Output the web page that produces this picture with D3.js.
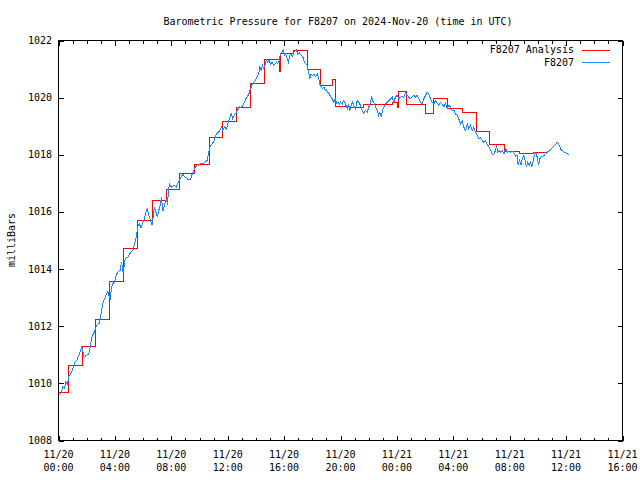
<!DOCTYPE html>
<html>
<head>
<meta charset="utf-8">
<script src="https://cdn.jsdelivr.net/npm/d3@7"></script>
<style>
  html, body { margin: 0; padding: 0; background: #fff; }
  svg { display: block; }
  text { font-family: "DejaVu Sans Mono", "Liberation Mono", monospace; font-size: 10px; fill: #000; }
</style>
</head>
<body>
<svg id="chart" width="640" height="480"></svg>
<script>
// ---- data (hours after 2024-11-20 00:00 UTC) ----
const titleText = "Barometric Pressure for F8207 on 2024-Nov-20 (time in UTC)";
const yLabel = "milliBars";
const seriesNames = ["F8207 Analysis", "F8207"];
const yTicks = [1008, 1010, 1012, 1014, 1016, 1018, 1020, 1022];
const xMajorHours = [0, 4, 8, 12, 16, 20, 24, 28, 32, 36, 40];

// Analysis (step) series
const anaHours = [0.00, 0.69, 1.68, 2.65, 3.64, 4.63, 5.62, 6.65, 7.66, 8.60, 9.67, 10.73, 11.65, 12.60, 13.62, 14.63, 15.67, 15.74, 16.70, 17.64, 18.58, 19.41, 19.65, 20.64, 21.63, 22.62, 23.67, 24.04, 24.13, 24.68, 25.67, 26.03, 26.62, 27.57, 28.67, 29.61, 30.59, 31.63, 32.72, 33.71, 34.61];
const anaValues = [1009.67, 1010.61, 1011.28, 1012.22, 1013.55, 1014.71, 1015.70, 1016.40, 1016.79, 1017.35, 1017.65, 1018.60, 1019.17, 1019.64, 1020.48, 1021.32, 1020.90, 1021.54, 1021.65, 1021.00, 1020.43, 1020.63, 1019.69, 1019.66, 1019.76, 1019.76, 1019.84, 1019.67, 1020.20, 1019.76, 1019.76, 1019.43, 1019.98, 1019.63, 1019.49, 1018.80, 1018.36, 1018.11, 1018.06, 1018.08, 1018.08];

// Observed series
const obsHours = [0.07,0.21,0.30,0.43,0.52,0.64,0.73,0.87,1.01,1.16,1.30,1.44,1.56,1.65,1.75,1.82,1.96,2.15,2.25,2.34,2.46,2.57,2.67,2.79,2.91,3.00,3.10,3.17,3.28,3.40,3.50,3.60,3.67,3.76,3.85,3.97,4.06,4.16,4.28,4.40,4.45,4.52,4.59,4.63,4.68,4.80,4.94,5.04,5.13,5.27,5.34,5.46,5.55,5.62,5.74,5.84,5.94,6.05,6.17,6.29,6.40,6.52,6.65,6.72,6.81,6.88,7.00,7.11,7.23,7.30,7.40,7.54,7.66,7.73,7.78,7.87,8.01,8.18,8.35,8.49,8.58,8.70,8.82,8.96,9.08,9.20,9.36,9.48,9.60,9.72,9.84,9.95,10.07,10.23,10.38,10.55,10.66,10.78,10.90,11.04,11.21,11.33,11.44,11.56,11.65,11.77,11.91,12.04,12.15,12.25,12.36,12.48,12.62,12.72,12.84,12.96,13.07,13.19,13.28,13.38,13.50,13.62,13.74,13.85,13.97,14.09,14.21,14.28,14.38,14.47,14.56,14.66,14.75,14.84,14.94,15.04,15.16,15.27,15.37,15.46,15.55,15.65,15.74,15.84,15.94,16.03,16.12,16.22,16.31,16.40,16.50,16.60,16.69,16.79,16.88,16.97,17.09,17.21,17.33,17.45,17.54,17.64,17.75,17.82,17.92,18.01,18.11,18.23,18.35,18.46,18.53,18.63,18.72,18.82,18.91,19.01,19.10,19.20,19.29,19.41,19.52,19.62,19.72,19.81,19.91,20.00,20.12,20.23,20.35,20.48,20.57,20.66,20.76,20.85,20.94,21.06,21.18,21.30,21.42,21.54,21.65,21.77,21.89,22.01,22.13,22.22,22.32,22.41,22.50,22.60,22.70,22.79,22.89,22.98,23.07,23.19,23.31,23.43,23.55,23.67,23.78,23.90,24.02,24.13,24.26,24.38,24.49,24.61,24.73,24.84,24.96,25.09,25.20,25.32,25.44,25.55,25.67,25.79,25.91,26.03,26.15,26.26,26.38,26.50,26.62,26.74,26.86,26.97,27.09,27.21,27.33,27.45,27.57,27.68,27.80,27.92,28.04,28.16,28.28,28.39,28.51,28.63,28.74,28.87,28.99,29.10,29.22,29.34,29.45,29.57,29.69,29.81,29.93,30.05,30.16,30.28,30.40,30.52,30.64,30.76,30.87,30.99,31.06,31.16,31.26,31.35,31.47,31.60,31.72,31.82,31.94,32.06,32.18,32.29,32.41,32.53,32.60,32.70,32.79,32.89,33.01,33.12,33.19,33.28,33.38,33.48,33.57,33.67,33.76,33.85,33.95,34.04,34.13,34.23,34.33,34.42,34.54,34.66,34.77,34.89,35.01,35.13,35.25,35.37,35.44,35.55,35.65,35.77,35.89,36.03,36.19];
const obsValues = [1009.61,1009.69,1009.87,1009.81,1010.04,1009.98,1010.24,1010.33,1010.51,1010.74,1010.80,1010.98,1011.15,1011.29,1011.09,1010.89,1010.98,1011.01,1011.27,1011.56,1011.73,1011.83,1011.99,1012.08,1012.11,1012.38,1012.67,1012.84,1012.96,1013.13,1013.23,1013.02,1012.92,1013.37,1013.48,1013.54,1013.72,1013.86,1013.93,1013.97,1014.21,1014.13,1013.86,1013.95,1014.30,1014.39,1014.42,1014.52,1014.59,1014.65,1014.77,1015.00,1015.23,1015.49,1015.58,1015.44,1015.58,1015.70,1015.93,1016.11,1015.88,1015.72,1015.53,1015.88,1016.17,1016.05,1015.82,1016.05,1016.28,1016.52,1016.03,1016.28,1016.46,1016.23,1016.63,1016.98,1016.87,1016.93,1016.87,1017.04,1017.12,1017.22,1017.33,1017.22,1017.22,1017.12,1017.12,1017.33,1017.47,1017.57,1017.66,1017.63,1017.71,1017.69,1017.74,1017.80,1018.09,1018.33,1018.38,1018.50,1018.73,1018.79,1018.85,1018.97,1018.87,1018.97,1018.91,1019.14,1019.32,1019.43,1019.26,1019.41,1019.49,1019.57,1019.69,1019.64,1019.73,1019.84,1019.96,1020.02,1020.13,1020.31,1020.48,1020.54,1020.60,1020.72,1020.86,1021.07,1020.97,1021.13,1021.01,1021.18,1021.32,1021.24,1021.30,1021.18,1021.24,1021.13,1021.18,1021.24,1021.18,1021.30,1021.53,1021.59,1021.67,1021.48,1021.53,1021.36,1021.24,1021.48,1021.53,1021.44,1021.59,1021.63,1021.67,1021.53,1021.56,1021.48,1021.42,1021.24,1021.18,1021.13,1020.89,1020.66,1020.83,1020.78,1020.83,1020.74,1020.83,1020.66,1020.48,1020.37,1020.31,1020.37,1020.25,1020.27,1020.19,1020.13,1020.04,1019.96,1019.84,1019.96,1019.81,1019.84,1019.76,1019.84,1019.76,1019.90,1019.78,1019.61,1019.73,1019.55,1019.73,1019.84,1019.73,1019.61,1019.90,1019.84,1019.73,1019.55,1019.46,1019.55,1019.49,1019.67,1019.84,1020.02,1019.84,1019.78,1019.67,1019.55,1019.38,1019.49,1019.32,1019.55,1019.67,1019.78,1019.84,1019.90,1019.96,1020.02,1019.84,1020.02,1020.08,1019.96,1020.02,1020.04,1020.00,1020.19,1020.08,1020.02,1019.96,1020.04,1020.08,1020.02,1020.08,1019.96,1019.84,1019.78,1019.96,1020.08,1020.19,1020.13,1019.96,1019.84,1019.78,1019.90,1019.81,1019.73,1019.84,1019.78,1019.67,1019.81,1019.61,1019.73,1019.67,1019.55,1019.57,1019.43,1019.38,1019.26,1019.08,1019.20,1018.97,1018.85,1019.08,1018.91,1019.03,1018.85,1018.97,1018.79,1018.68,1018.56,1018.59,1018.50,1018.44,1018.50,1018.38,1018.27,1018.17,1018.01,1018.01,1018.15,1018.33,1018.09,1018.15,1018.09,1018.15,1018.03,1018.21,1018.09,1018.13,1018.09,1018.12,1018.09,1017.94,1017.98,1017.63,1017.80,1017.63,1017.86,1017.98,1017.74,1017.57,1017.74,1017.63,1017.74,1017.57,1017.80,1017.98,1018.09,1017.92,1017.63,1017.86,1017.92,1017.94,1017.98,1018.01,1018.09,1018.12,1018.17,1018.24,1018.29,1018.36,1018.44,1018.41,1018.29,1018.17,1018.13,1018.09,1018.06,1018.00];

const colors = ["#ff0000", "#1a88ff"];

// ---- chart ----
const start = Date.UTC(2024, 10, 20, 0, 0);
const toDate = h => new Date(start + h * 3600000);

const svg = d3.select("#chart");
const x = d3.scaleUtc().domain([toDate(0), toDate(40)]).range([58.5, 622.5]);
const y = d3.scaleLinear().domain([1008, 1022]).range([440.5, 40.5]);

const fmtDay = d3.utcFormat("%m/%d");
const fmtTime = d3.utcFormat("%H:%M");

const majors = xMajorHours.map(toDate);
const minors = d3.range(0, 41).filter(h => h % 4 !== 0).map(toDate);

const axes = svg.append("g").attr("shape-rendering", "crispEdges");

function tickAxis(axisFn, scale, vals, size, transform) {
  const g = axes.append("g").attr("transform", transform)
    .call(axisFn(scale).tickValues(vals).tickSize(size).tickSizeOuter(0).tickFormat(""));
  g.select(".domain").remove();
  g.selectAll("line").attr("stroke", "#000");
  return g;
}
// bottom / top ticks (inward)
tickAxis(d3.axisBottom, x, majors, -5, "translate(0,440.5)");
tickAxis(d3.axisBottom, x, minors, -3, "translate(0,440.5)");
tickAxis(d3.axisTop, x, majors, -5, "translate(0,40.5)");
tickAxis(d3.axisTop, x, minors, -3, "translate(0,40.5)");
// left / right ticks (inward)
tickAxis(d3.axisLeft, y, yTicks, -5, "translate(58.5,0)");
tickAxis(d3.axisRight, y, yTicks, -5, "translate(622.5,0)");

// x tick labels (two lines)
const xl = svg.append("g");
xl.selectAll("text.d").data(majors).join("text")
  .attr("x", d => x(d)).attr("y", 458).attr("text-anchor", "middle").text(d => fmtDay(d));
xl.selectAll("text.t").data(majors).join("text")
  .attr("x", d => x(d)).attr("y", 471).attr("text-anchor", "middle").text(d => fmtTime(d));

// y tick labels
svg.append("g").selectAll("text").data(yTicks).join("text")
  .attr("x", 52).attr("y", d => y(d) + 3.5).attr("text-anchor", "end").text(d => d);

// lines
const anaData = anaHours.map((h, i) => ({ t: toDate(h), v: anaValues[i] }));
const obsData = obsHours.map((h, i) => ({ t: toDate(h), v: obsValues[i] }));

svg.append("path").datum(anaData)
  .attr("fill", "none").attr("stroke", colors[0]).attr("stroke-width", 1)
  .attr("shape-rendering", "crispEdges")
  .attr("d", d3.line().x(d => x(d.t)).y(d => y(d.v)).curve(d3.curveStepAfter));

svg.append("path").datum(obsData)
  .attr("fill", "none").attr("stroke", colors[1]).attr("stroke-width", 1)
  .attr("shape-rendering", "crispEdges")
  .attr("d", d3.line().x(d => x(d.t)).y(d => y(d.v)));

// border
axes.append("rect").attr("x", 58.5).attr("y", 40.5).attr("width", 564).attr("height", 400)
  .attr("fill", "none").attr("stroke", "#000");

// title
svg.append("text").attr("x", 338).attr("y", 25).attr("text-anchor", "middle").text(titleText);

// y label
svg.append("text").attr("transform", "translate(15,240) rotate(-90)")
  .attr("text-anchor", "middle").text(yLabel);

// legend
const lg = svg.append("g");
seriesNames.forEach((name, i) => {
  const cy = 49.5 + i * 12.7;
  lg.append("text").attr("x", 574).attr("y", cy + 3.5).attr("text-anchor", "end").text(name);
  lg.append("line").attr("x1", 582).attr("x2", 610).attr("y1", Math.round(cy) + 0.5).attr("y2", Math.round(cy) + 0.5)
    .attr("stroke", colors[i]).attr("shape-rendering", "crispEdges");
});
</script>
</body>
</html>
